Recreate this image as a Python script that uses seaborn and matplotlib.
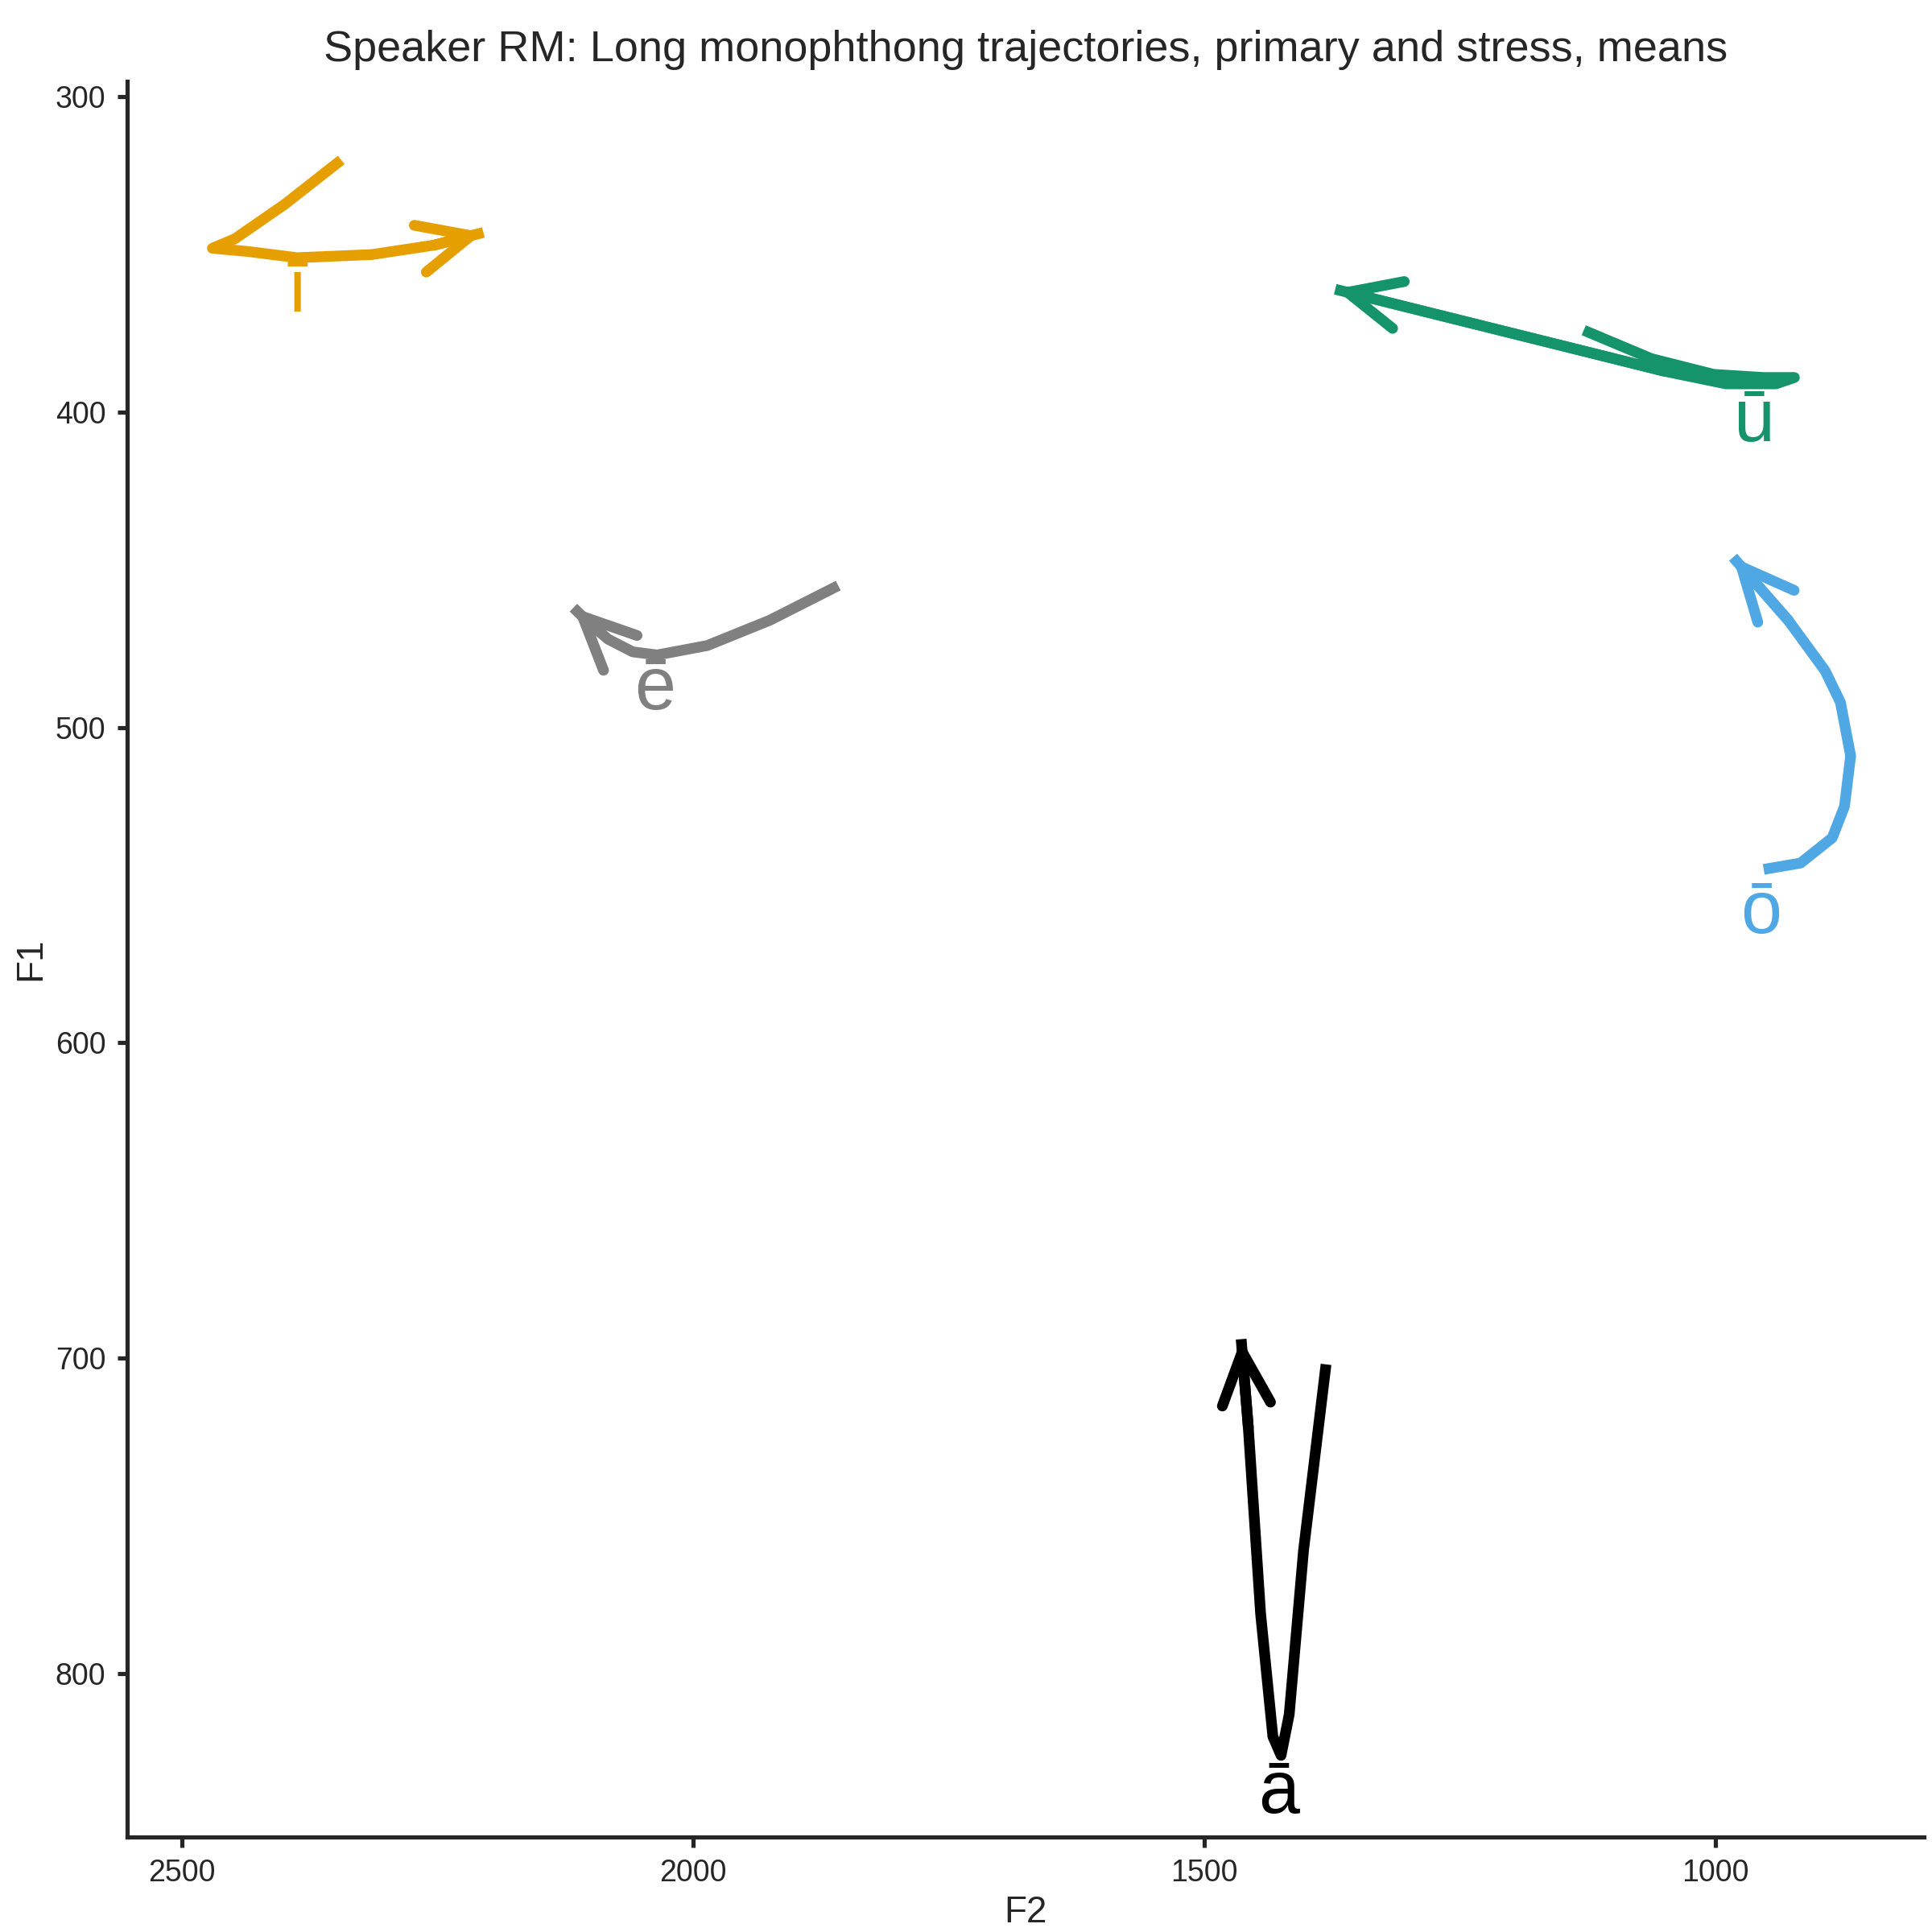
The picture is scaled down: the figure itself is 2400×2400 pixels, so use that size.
import matplotlib
matplotlib.use("Agg")
import matplotlib.pyplot as plt
import seaborn as sns

sns.set_theme(style="ticks")
plt.rcParams["font.family"] = ["Liberation Sans", "DejaVu Sans"]

# Mean trajectories (F2, F1) per vowel
vowels = ["ī", "ē", "ū", "ō", "ā"]
colors = ["#E69F00", "#808080", "#15936A", "#4FA8E3", "#000000"]
f2 = {
    "ī": [2344, 2399, 2448, 2470, 2436, 2387, 2314, 2253, 2205],
    "ē": [1858, 1925, 1986, 2035, 2059, 2083, 2101, 2117],
    "ū": [1129, 1063, 1002, 953, 923, 941, 990, 1050, 1372],
    "ō": [953, 917, 886, 874, 868, 878, 893, 929, 983],
    "ā": [1381, 1403, 1417, 1425, 1433, 1445, 1457, 1464],
}
f1 = {
    "ī": [320, 334, 345, 348, 349, 351, 350, 347, 343],
    "ē": [455, 466, 474, 477, 476, 472, 467, 462],
    "ū": [374, 383, 388, 389, 389, 391, 391, 387, 361],
    "ō": [545, 543, 535, 525, 509, 492, 482, 466, 446],
    "ā": [702, 761, 813, 826, 820, 781, 722, 694],
}
label_f2 = [2387, 2037, 962, 956, 1427]
label_f1 = [362, 488, 403, 559, 838]

fig, ax = plt.subplots(figsize=(8, 8), dpi=300)
fig.subplots_adjust(left=0.066, right=0.996, top=0.958, bottom=0.049)
for v, c, lx, ly in zip(vowels, colors, label_f2, label_f1):
    xs, ys = f2[v], f1[v]
    sns.lineplot(x=xs, y=ys, sort=False, ax=ax, color=c, linewidth=3.2,
                 estimator=None, solid_joinstyle="round", solid_capstyle="butt")
    ax.annotate("", xy=(xs[-1], ys[-1]), xytext=(xs[-2], ys[-2]),
                arrowprops=dict(arrowstyle="->,head_length=1.3,head_width=0.6",
                                color=c, lw=3.2, shrinkA=0, shrinkB=0))
    ax.text(lx, ly, v, color=c, fontsize=22, ha="center", va="center")

ax.set_xlim(2553, 796)
ax.set_ylim(852, 295)
ax.set_xticks([2500, 2000, 1500, 1000])
ax.set_yticks([300, 400, 500, 600, 700, 800])
ax.set_xlabel("F2", fontsize=11, labelpad=2)
ax.set_ylabel("F1", fontsize=11, labelpad=2)
ax.tick_params(labelsize=9, length=3)
ax.set_title("Speaker RM: Long monophthong trajectories, primary and stress, means",
             fontsize=13)
sns.despine(ax=ax)
plt.savefig("out.png", dpi=300)
plt.close()
